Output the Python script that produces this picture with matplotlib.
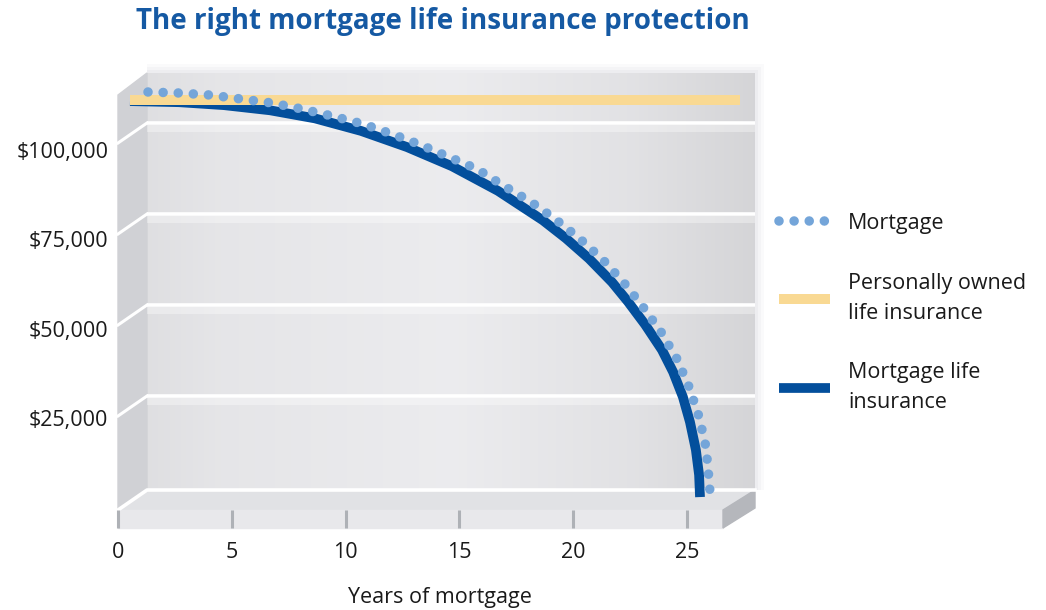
import numpy as np
import matplotlib
matplotlib.use("Agg")
import matplotlib.pyplot as plt
from matplotlib.patches import Polygon, Rectangle

# ---- data ----
years_mortgage = [0.79, 2.15, 3.51, 4.87, 6.23, 7.54, 8.86, 10.22, 11.49, 12.76,
                  13.99, 15.22, 16.40, 17.59, 18.64, 19.74, 20.75, 21.67, 22.50,
                  23.29, 23.99, 24.52, 24.96, 25.26, 25.39, 25.44]
mortgage = [110870, 110600, 110050, 108970, 107880, 106250, 104350, 102170, 99460,
            96470, 93210, 89950, 85330, 80980, 76360, 70920, 65220, 58970, 52450,
            45650, 38310, 30710, 22550, 14400, 5980, 1900]

years_mli = [0, 2.15, 4.12, 6.14, 8.11, 10.13, 12.15, 14.12, 16.14, 18.11, 19.12,
             20.13, 21.14, 21.84, 22.59, 23.33, 23.82, 24.25, 24.56, 24.82, 24.96, 25.0]
mortgage_life = [108400, 108100, 107300, 105900, 103700, 100300, 95900, 90700, 84000,
                 76000, 71100, 65600, 59200, 53900, 47700, 40800, 34800, 28000, 21200,
                 13600, 6800, 800]

years_personal = [0, 26.75]
personal = [108700, 108700]

x_ticks = [0, 5, 10, 15, 20, 25]
y_ticks = [25000, 50000, 75000, 100000]
y_ticklabels = ["$25,000", "$50,000", "$75,000", "$100,000"]

labels = ["Mortgage", "Personally owned\nlife insurance", "Mortgage life\ninsurance"]
title = "The right mortgage life insurance protection"

C_DOTS = "#74a5d9"
C_YELLOW = "#f9d993"
C_BLUE = "#034f9c"
C_TITLE = "#1559a3"
C_TEXT = "#1a1a1a"

plt.rcParams["font.family"] = ["Open Sans", "DejaVu Sans"]

W, H = 1046, 610
fig = plt.figure(figsize=(W / 100, H / 100), dpi=100)

# ---- background "3D" box, drawn in pixel space ----
bg = fig.add_axes([0, 0, 1, 1], zorder=0)
bg.set_xlim(0, W)
bg.set_ylim(H, 0)
bg.axis("off")

wall_l, wall_r, wall_t, wall_b = 147, 755, 73, 490
front_l, front_r, front_b = 118, 723, 528
dy = 510 - wall_b

# soft halo around the back wall
for pad, a in [(9, 0.12), (6, 0.18), (3, 0.25)]:
    bg.add_patch(Rectangle((wall_l, wall_t - pad), wall_r - wall_l + pad, wall_b - wall_t + pad,
                           color="#dcdce0", alpha=a, lw=0, zorder=0.5))

xs = np.linspace(0, 1, 200)
shade = np.interp(xs, [0, 0.12, 0.5, 0.8, 1], [0.875, 0.90, 0.925, 0.885, 0.835])
grad = np.dstack([shade, shade, shade + 0.01])[0:1].repeat(2, axis=0)
bg.imshow(np.clip(grad, 0, 1), extent=(wall_l, wall_r, wall_b, wall_t), aspect="auto",
          interpolation="bicubic", zorder=1)

# left side wall
bg.add_patch(Polygon([(front_l, wall_t + 22), (wall_l, wall_t), (wall_l, wall_b), (front_l, 510)],
                     closed=True, color="#d0d1d5", zorder=2))

# grid lines on back wall + side wall
grid_back = [123, 214, 305, 396]
for gy in grid_back:
    bg.add_patch(Rectangle((wall_l, gy + 1.5), wall_r - wall_l, 7, color="white", alpha=0.35,
                           lw=0, zorder=2))
    bg.plot([wall_l, wall_r], [gy, gy], color="white", lw=2.6, zorder=3, solid_capstyle="butt")
    bg.plot([front_l, wall_l], [gy + dy, gy], color="white", lw=2.2, zorder=3)

# floor top surface
bg.add_patch(Polygon([(front_l, 510), (wall_l, wall_b), (wall_r, wall_b), (front_r, 510)],
                     closed=True, color="#e1e2e5", zorder=2))
bg.plot([front_l, wall_l, wall_r], [510, wall_b, wall_b], color="white", lw=2.6, zorder=3)
# floor front face
bg.add_patch(Rectangle((front_l, 510), front_r - front_l, front_b - 510, color="#e8e8eb", zorder=2))
# floor right face
bg.add_patch(Polygon([(front_r, 510), (wall_r, wall_b), (wall_r, wall_b + 18), (front_r, front_b)],
                     closed=True, color="#b5b7bc", zorder=2))

# ---- axis labels (front plane) ----
lab = fig.add_axes([front_l / W, (H - front_b) / H, (front_r - front_l) / W, (front_b - 75) / H],
                   zorder=1)
lab.patch.set_visible(False)
for s in lab.spines.values():
    s.set_visible(False)
lab.set_xlim(0, (front_r - front_l) / 22.76)
lab.set_ylim(25000 - (front_b - 418) / 89.33 * 25000, 25000 + (418 - 75) / 89.33 * 25000)
lab.set_xticks(x_ticks)
lab.set_xticklabels([str(v) for v in x_ticks])
lab.set_yticks(y_ticks)
lab.set_yticklabels(y_ticklabels)
lab.tick_params(axis="x", direction="in", length=13, width=2.2, color="#aeb1b6",
                labelsize=15.5, labelcolor=C_TEXT, pad=10)
lab.tick_params(axis="y", length=0, labelsize=15.5, labelcolor=C_TEXT, pad=7)

# ---- data axes (mid-depth plane) ----
ax = fig.add_axes([0, 0, 1, 1], zorder=2)
ax.patch.set_visible(False)
ax.axis("off")
px_per_year = 22.8
px_per_25k = 92.0
x0_px, y0_px = 130, 500
ax.set_xlim(-x0_px / px_per_year, (W - x0_px) / px_per_year)
ax.set_ylim((y0_px - H) / px_per_25k * 25000, y0_px / px_per_25k * 25000)

# dot spacing chosen so the dotted line starts and ends on a dot (~15.3 px apart)
pts = ax.transData.transform(np.column_stack([years_mortgage, mortgage]))
path_len = np.hypot(*np.diff(pts, axis=0).T).sum()
n_gaps = max(1, round(path_len / 15.3))
dot_lw = 6.9
gap = path_len / n_gaps / (dot_lw * 100 / 72) * 0.995 - 0.001

l_blue, = ax.plot(years_mli, mortgage_life, color=C_BLUE, lw=7.0,
                  solid_capstyle="butt", solid_joinstyle="round", zorder=1)
l_yel, = ax.plot(years_personal, personal, color=C_YELLOW, lw=7.2,
                 solid_capstyle="butt", zorder=2)
l_dots, = ax.plot(years_mortgage, mortgage, color=C_DOTS, lw=dot_lw,
                  linestyle=(0, (0.001, gap)), dash_capstyle="round", zorder=3)

leg = fig.legend([l_dots, l_yel, l_blue], labels, loc="upper left",
                 bbox_to_anchor=(779 / W, 1 - 213 / H), frameon=False,
                 fontsize=15.5, handlelength=2.35, handletextpad=0.85,
                 labelspacing=1.8, borderpad=0, borderaxespad=0)
for t in leg.get_texts():
    t.set_color(C_TEXT)
    t.set_linespacing(1.55)

fig.text(443 / W, 1 - 22 / H, title, ha="center", va="center", fontsize=20,
         fontweight="bold", color=C_TITLE)
fig.text(440 / W, 1 - 597 / H, "Years of mortgage", ha="center", va="center",
         fontsize=15.5, color=C_TEXT)

fig.savefig("out.png", dpi=100)
